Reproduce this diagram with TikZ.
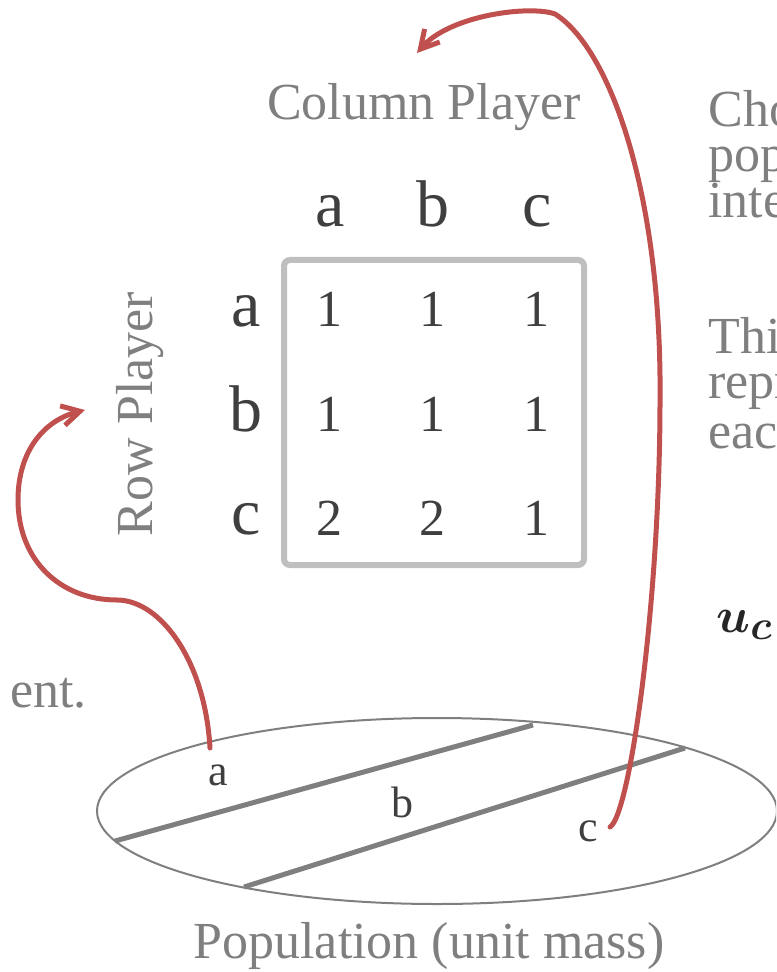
\documentclass[tikz,border=0pt]{standalone}
\usepackage{amsmath,amssymb,bm}
\usepackage{fontspec}
\setmainfont{Liberation Serif}
\usepackage{tikz}
\usetikzlibrary{arrows.meta}
\definecolor{txtgray}{HTML}{7F7F7F}
\definecolor{darktxt}{HTML}{3F3F3F}
\definecolor{boxgray}{HTML}{BFBFBF}
\definecolor{arrowred}{HTML}{C0504D}

\begin{document}
\begin{tikzpicture}[x=0.5pt, y=-0.5pt, inner sep=0pt]
    \tikzstyle{side}=[font=\fontsize{26}{30}\selectfont, text=txtgray, anchor=base];
    \tikzstyle{para}=[font=\fontsize{26}{22.75}\selectfont, text=txtgray, align=left, anchor=north west];
    \tikzstyle{hdr}=[font=\fontsize{33}{38}\selectfont, text=darktxt, anchor=base];
    \tikzstyle{pay}=[font=\fontsize{26}{30}\selectfont, text=darktxt, anchor=base];
    \tikzstyle{part}=[font=\fontsize{22}{26}\selectfont, text=darktxt, anchor=base];
    \tikzstyle{pick}=[draw=arrowred, line width=2.5pt, line cap=round, -{Straight Barb[length=9pt, width=10pt]}];
    \useasboundingbox (0,0) rectangle (776,972);
    \clip (0,0) rectangle (776,972);
    %text cut off at the edges
    \node[para] (t1) at (708,90) {Choose\\population\\interact};
    \node[para] (t2) at (708,317) {This\\represents\\each};
    \node[side, anchor=base east] (t3) at (87,707) {ent.};
    \node[anchor=base west, font=\fontsize{28}{32}\selectfont, text=black!85] (uc) at (716,632) {$\bm{u_c}$};
    %players
    \node[side] (col) at (424,120) {Column Player};
    \node[side, rotate=90] (row) at (152,414) {Row Player};
    %matrix
    \draw[boxgray, line width=3pt, rounded corners=3pt] (284,260) rectangle (584,565);
    \node[hdr] (ca) at (330,227) {a};
    \node[hdr] (cb) at (433,227) {b};
    \node[hdr] (cc) at (537,227) {c};
    \node[hdr] (ra) at (246,327) {a};
    \node[hdr] (rb) at (246,431) {b};
    \node[hdr] (rc) at (246,534) {c};
    \node[pay] (aa) at (329,327) {1};
    \node[pay] (ab) at (432,327) {1};
    \node[pay] (ac) at (536,327) {1};
    \node[pay] (ba) at (329,431) {1};
    \node[pay] (bb) at (432,431) {1};
    \node[pay] (bc) at (536,431) {1};
    \node[pay] (ca2) at (329,535) {2};
    \node[pay] (cb2) at (432,535) {2};
    \node[pay] (cc2) at (536,535) {1};
    %population
    \draw[txtgray, line width=1pt] (437,811) ellipse [x radius=340, y radius=93];
    \coordinate (s1) at (115,841);
    \coordinate (e1) at (533,725);
    \coordinate (s2) at (244,887);
    \coordinate (e2) at (685,748);
    \draw[txtgray, line width=2.5pt] (s1) -- (e1) (s2) -- (e2);
    \node[part] (pa) at (218,785) {a};
    \node[part] (pb) at (402,817) {b};
    \node[part] (pc) at (588,841) {c};
    \node[side] (pop) at (429,958) {Population (unit mass)};
    %arrows
    \coordinate (rowfrom) at (210,748);
    \coordinate (rowto) at (85,410);
    \coordinate (colfrom) at (610,827);
    \coordinate (colto) at (417,53);
    \draw[pick] (rowfrom) .. controls (205,660) and (160,600) .. (117,600)
        .. controls (60,600) and (18,560) .. (18,500)
        .. controls (18,450) and (45,420) .. (rowto);
    \draw[pick] (colfrom) .. controls (630,815) and (660,600) .. (660,400)
        .. controls (662,200) and (612,50) .. (555,14)
        .. controls (530,5) and (450,15) .. (colto);
\end{tikzpicture}
\end{document}
